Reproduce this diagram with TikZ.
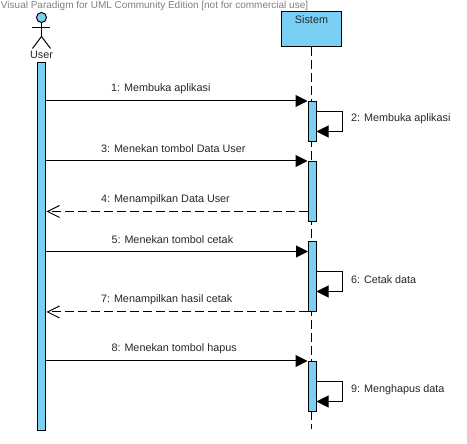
\documentclass[tikz,border=0pt]{standalone}
\usepackage{fontspec}
\usepackage{xcolor}
\setmainfont{Liberation Sans}
\usetikzlibrary{arrows.meta, positioning}
\definecolor{vpblue}{RGB}{122,207,245}

\begin{document}
\begin{tikzpicture}[x=1pt, y=-1pt, line width=1pt]

	\tikzstyle{lifebox} = [draw, fill=vpblue, minimum width=60pt, minimum height=35pt, inner sep=0pt]
	\tikzstyle{bar} = [draw, fill=vpblue, minimum width=8pt, inner sep=0pt]
	\tikzstyle{lifeline} = [dash pattern=on 9pt off 4pt]
	\tikzstyle{call} = [-{Triangle[length=12pt, width=12pt]}]
	\tikzstyle{back} = [dash pattern=on 9pt off 4pt, -{Straight Barb[length=12pt, width=12pt]}]
	\tikzstyle{label} = [font=\fontsize{10.8pt}{12pt}\selectfont, text=black!85, inner sep=0pt]
	\tikzstyle{msg} = [label, anchor=west]

	\useasboundingbox (-0.5,-0.5) rectangle (466.5,443.5);

	\node[text=black!50, font=\fontsize{10pt}{12pt}\selectfont, inner sep=0pt, anchor=west] (mark) at (0,5) {Visual Paradigm for UML Community Edition [not for commercial use]};

	% actor
	\node[draw, circle, fill=vpblue, minimum size=10pt, inner sep=0pt] (head) at (41,17) {};
	\coordinate (hip) at (41,36);
	\coordinate (armL) at (32,27);
	\coordinate (armR) at (50,27);
	\coordinate (footL) at (32,48);
	\coordinate (footR) at (50,48);
	\draw (head) -- (hip);
	\draw (armL) -- (armR);
	\draw (footL) -- (hip) -- (footR);
	\node[label] (user) at (41,54) {User};

	% lifelines
	\node[lifebox] (sistem) at (311,28.5) {};
	\node[label] (sistemtxt) at (311,19) {Sistem};
	\coordinate (end) at (311,428);
	\draw[lifeline] (sistem) -- (end);

	\node[bar, minimum height=368pt] (userbar) at (41.5,246) {};
	\node[bar, minimum height=40pt] (bar1) at (311.5,121) {};
	\node[bar, minimum height=60pt] (bar2) at (311.5,191) {};
	\node[bar, minimum height=70pt] (bar3) at (311.5,276) {};
	\node[bar, minimum height=50pt] (bar4) at (311.5,386) {};

	% messages
	\draw[call] (userbar.east |- bar1.north) -- (bar1.north west);
	\node[msg] (m1) at (110,88) {1: Membuka aplikasi};

	\coordinate (s2a) at (342,111);
	\coordinate (s2b) at (342,131);
	\draw[call] (bar1.east |- s2a) -- (s2a) -- (s2b) -- (bar1.east |- s2b);
	\node[msg] (m2) at (350,118) {2: Membuka aplikasi};

	\draw[call] (userbar.east |- bar2.north) -- (bar2.north west);
	\node[msg] (m3) at (100,148) {3: Menekan tombol Data User};

	\coordinate (r4) at (307.5,211);
	\draw[back] (r4) -- (userbar.east |- r4);
	\node[msg] (m4) at (100,199) {4: Menampilkan Data User};

	\coordinate (c5) at (307.5,251);
	\draw[call] (userbar.east |- c5) -- (c5);
	\node[msg] (m5) at (110.5,239) {5: Menekan tombol cetak};

	\coordinate (s6a) at (342,271);
	\coordinate (s6b) at (342,291);
	\draw[call] (bar3.east |- s6a) -- (s6a) -- (s6b) -- (bar3.east |- s6b);
	\node[msg] (m6) at (350,279) {6: Cetak data};

	\draw[back] (bar3.south west) -- (userbar.east |- bar3.south);
	\node[msg] (m7) at (100,299) {7: Menampilkan hasil cetak};

	\draw[call] (userbar.east |- bar4.north) -- (bar4.north west);
	\node[msg] (m8) at (110.5,348) {8: Menekan tombol hapus};

	\coordinate (s9a) at (342,381);
	\coordinate (s9b) at (342,401);
	\draw[call] (bar4.east |- s9a) -- (s9a) -- (s9b) -- (bar4.east |- s9b);
	\node[msg] (m9) at (350,389) {9: Menghapus data};

\end{tikzpicture}
\end{document}
